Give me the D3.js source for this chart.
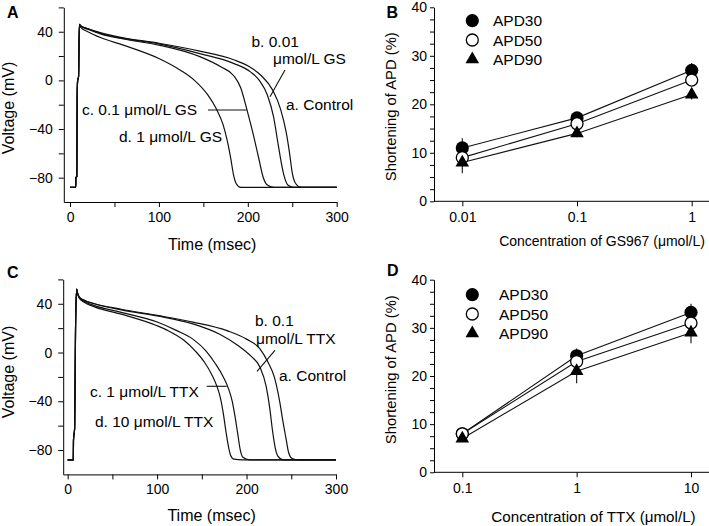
<!DOCTYPE html>
<html>
<head>
<meta charset="utf-8">
<script src="https://cdn.jsdelivr.net/npm/d3@7"></script>
<style>
body { margin: 0; background: #fff; }
svg { display: block; font-family: "Liberation Sans", Arial, sans-serif; }
</style>
</head>
<body>
<svg id="fig" width="709" height="526"></svg>
<script>
// ---- action potentials, panel A (GS967) : [time ms, mV]
var upA = [[0, -88], [6.4, -88], [6.6, -80], [7.6, -79], [8.1, -10], [8.6, 0], [9.6, 3], [10.5, 46]];
var apA_control = [[12, 45], [20, 42.5], [35, 39], [60, 35], [100, 30.5], [146, 24], [184, 17], [200, 12], [215, 4], [228, -8], [237, -24], [243, -42], [247, -60], [250, -76], [254, -85], [260, -88], [300, -88]];
var apA_gs001 = [[12, 45], [20, 42.5], [35, 38.5], [60, 34.5], [100, 30], [146, 22], [184, 14], [203, 7], [213, 0], [222, -12], [229, -30], [234, -52], [238, -69], [241, -79], [245, -86], [252, -88], [300, -88]];
var apA_gs01 = [[12, 44.5], [20, 42], [35, 38], [60, 34], [100, 29], [146, 19.5], [170, 11], [184, 4], [192, -6], [199, -24], [206, -44], [212, -63], [217, -79], [222, -86], [230, -88], [300, -88]];
var apA_gs1 = [[12, 43.5], [20, 40], [35, 35], [60, 29], [100, 18], [125, 8], [140, 0], [155, -12], [165, -24], [172, -36], [177, -50], [181, -65], [184, -78], [187, -85], [192, -88], [300, -88]];

// ---- action potentials, panel C (TTX)
var upC = [[0, -88], [6.3, -88], [6.5, -72], [7.8, -62], [8.8, 20], [10, 52]];
var apC_control = [[11, 49], [13, 45.5], [18, 43], [30, 40], [60, 35.5], [100, 30.5], [140, 25], [178, 18], [200, 11], [215, 3], [224, -8], [231, -20], [237, -40], [241, -58], [244, -70], [247, -82], [251, -87], [258, -88], [300, -88]];
var apC_ttx01 = [[11, 49], [13, 45.5], [18, 43], [30, 40], [60, 35], [100, 30], [140, 23.5], [170, 15], [190, 6], [205, -3], [215, -12], [222, -28], [226, -46], [229, -64], [232, -78], [235, -85], [241, -88], [300, -88]];
var apC_ttx1 = [[11, 48.5], [13, 45], [18, 42], [30, 38.5], [60, 33], [100, 25], [122, 18], [140, 11], [155, 1], [165, -9], [174, -20], [180, -30], [184, -40], [187, -52], [190, -66], [193, -80], [196, -86], [203, -88], [300, -88]];
var apC_ttx10 = [[11, 48.5], [13, 44.5], [18, 41.5], [30, 37.5], [60, 31.5], [100, 22], [111, 18.4], [130, 10], [143, 1], [153, -8], [161, -18], [167, -28], [171, -38], [174, -50], [177, -65], [180, -78], [182, -84], [186, -87.5], [195, -88], [300, -88]];

var timeTicks = [0, 100, 200, 300];
var timeMinor = [50, 150, 250];
var voltTicks = [-80, -40, 0, 40];
var voltMinor = [-60, -20, 20, 60];

// ---- APD shortening (%), panel B
var gsConc = [0.01, 0.1, 1];
var gsApd30 = [11, 17.2, 27];
var gsApd30Err = [2, 1, 1.5];
var gsApd50 = [9, 16, 25];
var gsApd50Err = [1, 1, 1];
var gsApd90 = [8, 14, 22];
var gsApd90Err = [2.2, 0.8, 1];

// ---- APD shortening (%), panel D
var ttxConc = [0.1, 1, 10];
var ttxApd30 = [8, 24.2, 33.2];
var ttxApd30Err = [0.5, 1.5, 1.8];
var ttxApd50 = [8, 23, 31];
var ttxApd50Err = [0.5, 1, 1];
var ttxApd90 = [7, 21, 29];
var ttxApd90Err = [0.5, 2.5, 2.2];

var pctTicks = [0, 10, 20, 30, 40];
var pctMinor = [2.5, 5, 7.5, 12.5, 15, 17.5, 22.5, 25, 27.5, 32.5, 35, 37.5];

var svg = d3.select('#fig');
var fmt = d3.format('d');

function styleAxis(sel) {
	sel.attr('font-size', 14).attr('font-family', null);
	sel.selectAll('line').attr('stroke', '#000');
	sel.selectAll('path').attr('stroke', '#000');
	sel.selectAll('text').attr('fill', '#000');
}

function drawTraces(cfg) {
	var x = d3.scaleLinear().domain(cfg.xDomain).range(cfg.xRange),
		y = d3.scaleLinear().domain([-100, 60]).range(cfg.yRange),
		g = svg.append('g');

	g.append('g').attr('transform', 'translate(0,' + cfg.yRange[0] + ')')
		.call(d3.axisBottom(x).tickValues(timeTicks.concat(timeMinor)).tickSizeInner(5).tickSizeOuter(0).tickPadding(5)
			.tickFormat(function (d) { return timeTicks.indexOf(d) >= 0 ? fmt(d) : ''; }))
		.call(styleAxis);
	g.append('g').attr('transform', 'translate(' + cfg.xRange[0] + ',0)')
		.call(d3.axisLeft(y).tickValues(voltTicks.concat(voltMinor)).tickSizeInner(5).tickSizeOuter(0).tickPadding(6)
			.tickFormat(function (d) { return voltTicks.indexOf(d) >= 0 ? fmt(d) : ''; }))
		.call(styleAxis);

	var line = d3.line().x(function (d) { return x(d[0]); }).y(function (d) { return y(d[1]); }).curve(d3.curveMonotoneX);
	cfg.traces.forEach(function (tr) {
		g.append('path').attr('d', line(cfg.up.concat(tr)))
			.attr('fill', 'none').attr('stroke', '#111').attr('stroke-width', 1.2).attr('stroke-linejoin', 'round');
	});

	g.append('text').attr('x', (cfg.xRange[0] + cfg.xRange[1]) / 2 + 12).attr('y', cfg.xTitleY)
		.attr('text-anchor', 'middle').attr('font-size', 16).text('Time (msec)');
	g.append('text').attr('transform', 'translate(14,' + cfg.yTitleY + ') rotate(-90)')
		.attr('text-anchor', 'middle').attr('font-size', 16).text('Voltage (mV)');

	cfg.notes.forEach(function (n) {
		g.append('text').attr('x', n[1]).attr('y', n[2]).attr('font-size', 15.5).text(n[0]);
	});
	cfg.leaders.forEach(function (l) {
		g.append('line').attr('x1', l[0]).attr('y1', l[1]).attr('x2', l[2]).attr('y2', l[3])
			.attr('stroke', '#111').attr('stroke-width', 1.1);
	});
}

function drawDose(cfg) {
	var x = d3.scaleLog().domain([cfg.conc[0], cfg.conc[2]]).range(cfg.xRange),
		y = d3.scaleLinear().domain([0, 40]).range(cfg.yRange),
		g = svg.append('g');

	var xa = g.append('g').attr('transform', 'translate(0,' + cfg.yRange[0] + ')')
		.call(d3.axisBottom(x).tickValues(cfg.conc).tickSizeInner(5).tickSizeOuter(0).tickPadding(6)
			.tickFormat(function (d) { return String(d); }))
		.call(styleAxis);
	xa.select('.domain').remove();
	g.append('line').attr('x1', cfg.axisX).attr('x2', 709).attr('y1', cfg.yRange[0]).attr('y2', cfg.yRange[0])
		.attr('stroke', '#000');
	g.append('g').attr('transform', 'translate(' + cfg.axisX + ',0)')
		.call(d3.axisLeft(y).tickValues(pctTicks.concat(pctMinor)).tickSizeInner(4).tickSizeOuter(0).tickPadding(3)
			.tickFormat(function (d) { return pctTicks.indexOf(d) >= 0 ? fmt(d) : ''; }))
		.call(styleAxis);

	var line = d3.line().x(function (d) { return x(d[0]); }).y(function (d) { return y(d[1]); });
	cfg.series.forEach(function (s) {
		var pts = cfg.conc.map(function (c, i) { return [c, s.values[i]]; });
		g.append('path').attr('d', line(pts)).attr('fill', 'none').attr('stroke', '#111').attr('stroke-width', 1.1);
	});
	cfg.series.forEach(function (s) {
		cfg.conc.forEach(function (c, i) {
			g.append('line').attr('x1', x(c)).attr('x2', x(c))
				.attr('y1', y(s.values[i] - s.err[i])).attr('y2', y(s.values[i] + s.err[i]))
				.attr('stroke', '#111').attr('stroke-width', 1.1);
		});
	});
	function marker(sel, kind) {
		if (kind === 'tri') {
			return sel.append('path').attr('d', d3.symbol().type(d3.symbolTriangle).size(80)()).attr('fill', '#000');
		}
		return sel.append('circle').attr('r', kind === 'open' ? 6 : 6.6)
			.attr('fill', kind === 'open' ? '#fff' : '#000').attr('stroke', '#000').attr('stroke-width', kind === 'open' ? 1.3 : 0);
	}
	cfg.series.forEach(function (s) {
		cfg.conc.forEach(function (c, i) {
			marker(g.append('g').attr('transform', 'translate(' + x(c) + ',' + y(s.values[i]) + ')'), s.kind);
		});
	});

	cfg.series.forEach(function (s, i) {
		var ly = cfg.legendY + i * 19.3;
		marker(g.append('g').attr('transform', 'translate(' + cfg.legendX + ',' + ly + ')'), s.kind);
		g.append('text').attr('x', cfg.legendTextX).attr('y', ly + 5.5).attr('font-size', 15.5).text(s.name);
	});

	g.append('text').attr('x', cfg.xTitleX).attr('y', cfg.xTitleY).attr('text-anchor', 'middle')
		.attr('font-size', cfg.xTitleSize).text(cfg.xTitle);
	g.append('text').attr('transform', 'translate(396,' + cfg.yTitleY + ') rotate(-90)')
		.attr('text-anchor', 'middle').attr('font-size', 14.8).text('Shortening of APD (%)');
}

drawTraces({
	xDomain: [-7, 300], xRange: [63.8, 336.7], yRange: [202, 7.4],
	up: upA, traces: [apA_control, apA_gs001, apA_gs01, apA_gs1],
	xTitleY: 250, yTitleY: 108,
	notes: [['b. 0.01', 251.5, 47], ['\u03bcmol/L GS', 273, 64], ['a. Control', 286, 110],
		['c. 0.1 \u03bcmol/L GS', 82, 115], ['d. 1 \u03bcmol/L GS', 119, 142]],
	leaders: [[208, 110, 246.7, 110], [270, 96.7, 285, 70]]
});

drawTraces({
	xDomain: [-5, 300], xRange: [63.2, 336], yRange: [474.4, 279.4],
	up: upC, traces: [apC_control, apC_ttx01, apC_ttx1, apC_ttx10],
	xTitleY: 521, yTitleY: 372,
	notes: [['b. 0.1', 255, 326], ['\u03bcmol/L TTX', 256, 344], ['a. Control', 279, 381],
		['c. 1 \u03bcmol/L TTX', 90, 397], ['d. 10 \u03bcmol/L TTX', 95, 427]],
	leaders: [[206.7, 386.3, 226.7, 386.3], [257, 371.3, 275, 350.3]]
});

drawDose({
	conc: gsConc, xRange: [462.3, 691.7], yRange: [201.3, 7.3], axisX: 434,
	series: [
		{ name: 'APD30', values: gsApd30, err: gsApd30Err, kind: 'filled' },
		{ name: 'APD50', values: gsApd50, err: gsApd50Err, kind: 'open' },
		{ name: 'APD90', values: gsApd90, err: gsApd90Err, kind: 'tri' }
	],
	legendX: 472.3, legendY: 20.7, legendTextX: 493,
	xTitle: 'Concentration of GS967 (\u03bcmol/L)', xTitleX: 602, xTitleY: 246, xTitleSize: 14, yTitleY: 106.7
});

drawDose({
	conc: ttxConc, xRange: [462.3, 691], yRange: [472.3, 279.7], axisX: 434,
	series: [
		{ name: 'APD30', values: ttxApd30, err: ttxApd30Err, kind: 'filled' },
		{ name: 'APD50', values: ttxApd50, err: ttxApd50Err, kind: 'open' },
		{ name: 'APD90', values: ttxApd90, err: ttxApd90Err, kind: 'tri' }
	],
	legendX: 472.3, legendY: 294.7, legendTextX: 499,
	xTitle: 'Concentration of TTX (\u03bcmol/L)', xTitleX: 593.5, xTitleY: 522, xTitleSize: 15.2, yTitleY: 369.7
});

[['A', 7, 18], ['B', 386.5, 18], ['C', 7, 278], ['D', 387, 276]].forEach(function (p) {
	svg.append('text').attr('x', p[1]).attr('y', p[2]).attr('font-size', 16).attr('font-weight', 'bold').text(p[0]);
});
</script>
</body>
</html>
